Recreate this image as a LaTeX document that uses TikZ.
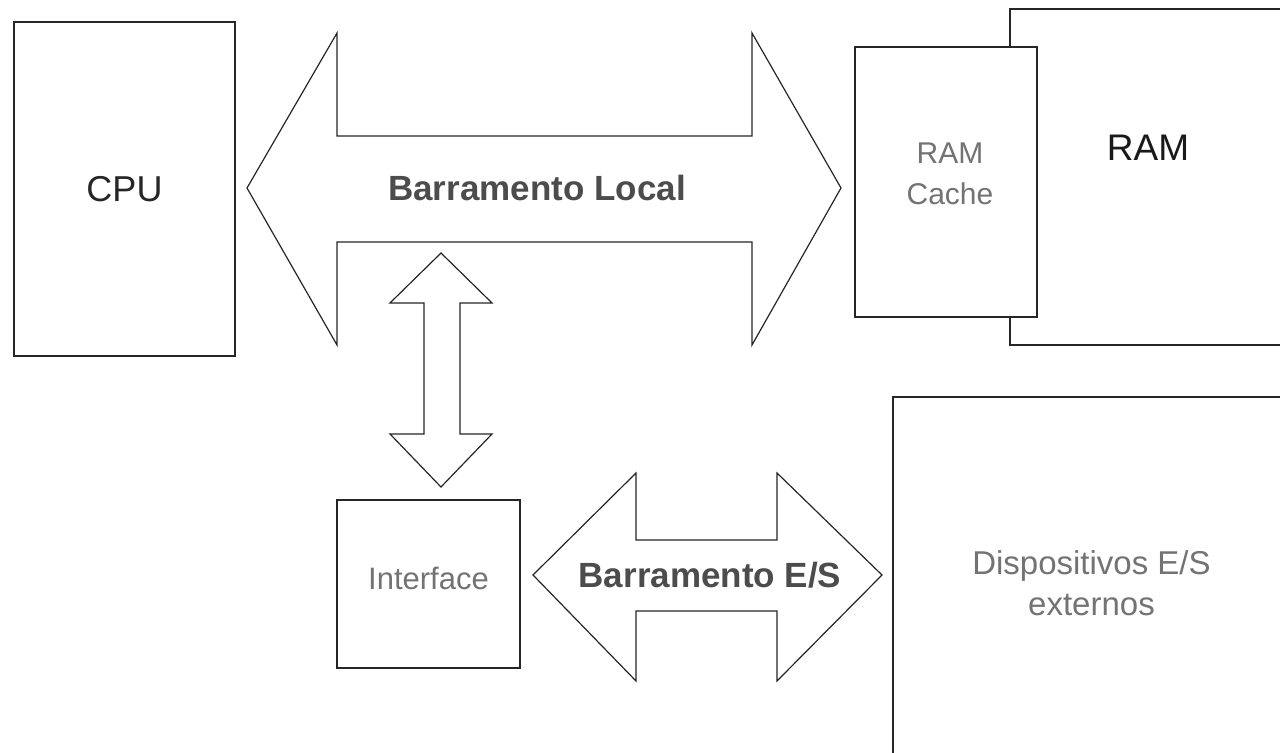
\documentclass[tikz,border=0pt]{standalone}
\usepackage{fontspec}
\setmainfont{Liberation Sans}
\usepackage{tikz}
\usetikzlibrary{positioning}

\tikzset{
    box/.style={draw=black!85,line width=0.75pt,fill=white,rectangle,inner sep=0pt},
    bus/.style={draw=black!85,line width=0.6pt,line join=miter,fill=white},
    buslabel/.style={font=\bfseries\fontsize{17.5}{20}\selectfont,text=black!70},
    dimtext/.style={text=black!55,align=center},
}

\begin{document}
\begin{tikzpicture}[x=0.5pt,y=-0.5pt]
    \clip (0,0) rectangle (1280,753);
    \fill[white] (0,0) rectangle (1280,753);
    \path
        (124.5,189) node [box,minimum width=110.5pt,minimum height=167pt,
                          font=\fontsize{18}{20}\selectfont,text=black!85] (cpu) {CPU}
        (1150,177)  node [box,minimum width=140pt,minimum height=168pt] (ram) {}
        (946,182)   node [box,minimum width=91pt,minimum height=135pt] (cache) {}
        (428.5,584) node [box,minimum width=91.5pt,minimum height=84pt] (iface) {}
        (1091.5,583.5) node [box,minimum width=198.5pt,minimum height=186.5pt,dimtext,
                          font=\fontsize{16.5}{20.5}\selectfont] (dev) {Dispositivos E/S\\externos}
        ;
    \node [font=\fontsize{18.5}{20}\selectfont,text=black!90] (ramlbl) at (1148,148) {RAM};
    \node [dimtext,font=\fontsize{15}{20.5}\selectfont] (cachelbl)
        at ([xshift=2pt,yshift=4pt]cache.center) {RAM\\Cache};
    \node [dimtext,font=\fontsize{15.5}{18}\selectfont] (ifacelbl)
        at ([yshift=3pt]iface.center) {Interface};

    % barramento local
    \draw [bus] (247,188) -- (337,33) -- (337,136) -- (752,136) -- (752,33) -- (841,188)
        -- (752,345) -- (752,242) -- (337,242) -- (337,345) -- cycle;
    \node [buslabel] (local) at (537,188) {Barramento Local};

    % ligacao com a interface
    \draw [bus] (441,253) -- (492,303) -- (460,303) -- (460,434) -- (492,434) -- (441,487)
        -- (390,434) -- (424,434) -- (424,303) -- (390,303) -- cycle;

    % barramento E/S
    \draw [bus] (533,575) -- (636,473) -- (636,540) -- (777,540) -- (777,473) -- (882,575)
        -- (777,681) -- (777,611) -- (636,611) -- (636,681) -- cycle;
    \node [buslabel] (es) at (710,575) {Barramento E/S};
\end{tikzpicture}
\end{document}
